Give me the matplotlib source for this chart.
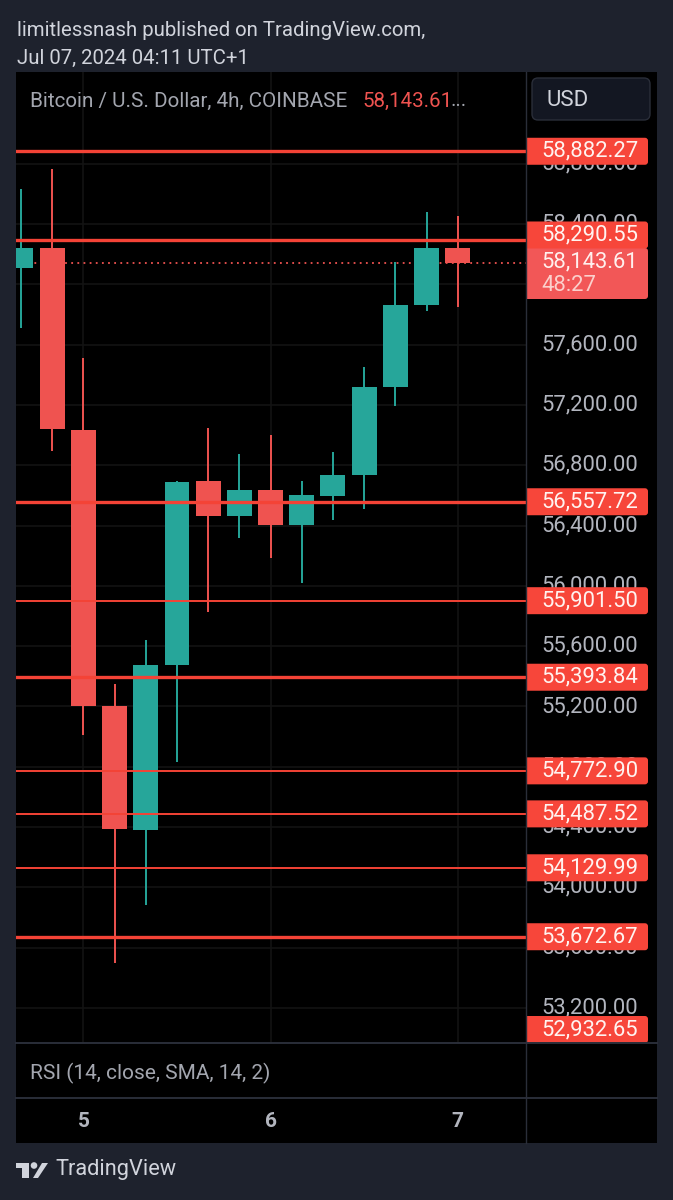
import matplotlib
matplotlib.use("Agg")
import matplotlib.pyplot as plt
from matplotlib.patches import FancyBboxPatch, Polygon, Circle, Rectangle

plt.rcParams['font.family'] = ['Roboto', 'DejaVu Sans']

W, H = 673, 1200

# candles
opens = [58109, 58241, 57034, 55202, 54379, 55474, 56695, 56463, 56635, 56403, 56596, 56735, 57319, 57863, 58241]
highs = [58633, 58766, 57511, 55348, 55640, 56695, 57047, 56874, 57000, 56695, 56888, 57452, 58149, 58480, 58454]
lows = [57711, 56894, 55009, 53496, 53881, 54830, 55826, 56317, 56184, 56018, 56436, 56509, 57193, 57823, 57850]
closes = [58241, 57040, 55202, 54386, 55474, 56689, 56463, 56635, 56403, 56602, 56735, 57319, 57863, 58241, 58143.61]

day_labels = ['5', '6', '7']
day_candles = [2, 8, 14]

price_ticks = [53200, 53600, 54000, 54400, 54800, 55200, 55600, 56000, 56400, 56800, 57200, 57600, 58000, 58400, 58800]

thick_levels = [58882.27, 58290.55, 56557.72, 55393.84, 53672.67]
thin_levels = [55901.50, 54772.90, 54487.52, 54129.99]
hidden_levels = [52932.65]
last_price = 58143.61
countdown = '48:27'

BG = '#1e222d'
GREEN = '#26a69a'
RED = '#ef5350'
LINE_RED = '#f44336'
TAG_RED = '#f7463a'
GRID = '#131313'
SEP = '#2a2e39'

# price axis calibration from the gridlines: 57,600 at y=344.6, 53,200 at y=1008
PX_PER_USD = (1008 - 344.6) / 4400
y_top = 57600 + (344.6 - 72) / PX_PER_USD
y_bot = 57600 + (344.6 - 1043) / PX_PER_USD

TICK_FS = 15.8


def axes_px(x0, y0, x1, y1, **kw):
    return fig.add_axes([x0 / W, 1 - y1 / H, (x1 - x0) / W, (y1 - y0) / H], **kw)


def px_to_price(y):
    return 57600 + (344.6 - y) / PX_PER_USD


fig = plt.figure(figsize=(W / 100, H / 100), dpi=100, facecolor=BG)

# chrome layer in pixel coordinates
bg = axes_px(0, 0, W, H)
bg.set_xlim(0, W)
bg.set_ylim(H, 0)
bg.axis('off')
bg.add_patch(Rectangle((16, 72), 641, 1071, fc='black', ec='none'))

head_col = '#d1d4dc'
bg.text(17, 30, 'limitlessnash published on TradingView.com,', color=head_col, fontsize=14.7, va='center')
bg.text(17, 58, 'Jul 07, 2024 04:11 UTC+1', color=head_col, fontsize=14.7, va='center')
bg.text(55, 1170, 'TradingView', color=head_col, fontsize=15.7, va='center')

# logo
logo = '#d1d4dc'
bg.add_patch(Polygon([(16, 1163), (29, 1163), (29, 1178), (22, 1178), (22, 1168), (16, 1168)], fc=logo, ec='none'))
bg.add_patch(Circle((34, 1165.5), 3.3, fc=logo, ec='none'))
bg.add_patch(Polygon([(42, 1163), (48, 1163), (38, 1178), (33, 1178)], fc=logo, ec='none'))

# main pane
ax = axes_px(16, 72, 526, 1043, facecolor='black', zorder=2)
ax.set_xlim(-0.16, 16.187)
ax.set_ylim(y_bot, y_top)
for s in ax.spines.values():
    s.set_visible(False)
ax.set_xticks([])
ax.set_yticks([])

for p in price_ticks:
    ax.axhline(p, color=GRID, lw=1.2, zorder=1)
for d in day_candles:
    ax.axvline(d, color=GRID, lw=1.2, zorder=1)

for i in range(len(opens)):
    col = GREEN if closes[i] >= opens[i] else RED
    ax.vlines(i, lows[i], highs[i], color=col, lw=1.4, zorder=3)
    ax.bar(i, abs(closes[i] - opens[i]), bottom=min(opens[i], closes[i]), width=0.8, color=col, zorder=4)

ax.axhline(last_price, color=RED, lw=1.3, ls=(0, (1, 2.4)), zorder=2)
for p in thick_levels:
    ax.axhline(p, color=LINE_RED, lw=2.4, zorder=5)
for p in thin_levels:
    ax.axhline(p, color=LINE_RED, lw=1.4, zorder=5)

# price scale
pax = axes_px(526, 72, 657, 1043, facecolor='black', zorder=2)
pax.set_xlim(0, 131)
pax.set_ylim(y_bot, y_top)
pax.axis('off')

for p in price_ticks:
    pax.text(15, p, f'{p:,.2f}', color='#b2b5be', fontsize=TICK_FS, va='center', zorder=1)


def tag(y_center, h, col, z):
    # rounded on the right only, the left end runs past the clip edge
    half = h / 2 / PX_PER_USD
    box = FancyBboxPatch((-8, y_center - half), 130, 2 * half,
                         boxstyle='round,pad=0,rounding_size=3',
                         mutation_aspect=1 / PX_PER_USD,
                         fc=col, ec='none', zorder=z)
    pax.add_patch(box)


half = 27 / 2 / PX_PER_USD
for p in thick_levels + thin_levels:
    # the 58,290.55 tag gets pushed up by the last price tag
    c = p + 5.5 / PX_PER_USD if p == 58290.55 else p
    tag(c, 27, TAG_RED, 4)
    pax.text(15, c, f'{p:,.2f}', color='#fff3f0', fontsize=TICK_FS, va='center', zorder=4.5)

# last price tag with countdown, sits under the 58,290.55 tag
tag(px_to_price(273.5), 51, '#f25757', 3)
pax.text(15, px_to_price(262), f'{last_price:,.2f}', color='#fff0ee', fontsize=TICK_FS, va='center', zorder=3.5)
pax.text(15, px_to_price(285), countdown, color='#fbd0cc', fontsize=TICK_FS, va='center', zorder=3.5)

# low tag, pushed up to stay inside the pane
for p in hidden_levels:
    c = max(p, y_bot + half)
    tag(c, 27, TAG_RED, 4)
    pax.text(15, c, f'{p:,.2f}', color='#fff3f0', fontsize=TICK_FS, va='center', zorder=4.5)

# lower panes
tax = axes_px(16, 1098, 526, 1143, facecolor='black', zorder=2)
tax.set_xlim(ax.get_xlim())
tax.set_ylim(0, 1)
tax.axis('off')
for d, lab in zip(day_candles, day_labels):
    tax.text(d, 0.47, lab, color='#b2b5be', fontsize=15, fontweight='bold', ha='center', va='center')

# top layer: separators, button, legend text
top = axes_px(0, 0, W, H, zorder=6)
top.set_xlim(0, W)
top.set_ylim(H, 0)
top.axis('off')
top.plot([526, 526], [72, 1143], color=SEP, lw=1)
top.plot([16, 657], [1043, 1043], color=SEP, lw=1.4)
top.plot([16, 657], [1098, 1098], color=SEP, lw=1.4)
top.add_patch(FancyBboxPatch((532, 78), 118, 42, boxstyle='round,pad=0,rounding_size=6', fc='#131722', ec=SEP, lw=1))
top.text(547, 100, 'USD', color=head_col, fontsize=16, va='center')
top.text(30, 101, 'Bitcoin / U.S. Dollar, 4h, COINBASE', color='#a3a6af', fontsize=14.9, va='center')
top.text(362, 101, '58,143.61', color=RED, fontsize=14.8, va='center')
top.text(451, 101, '...', color='#a3a6af', fontsize=14.8, va='center')
top.text(30, 1073, 'RSI (14, close, SMA, 14, 2)', color='#a3a6af', fontsize=15, va='center')

fig.savefig('out.png', dpi=100, facecolor=BG)
